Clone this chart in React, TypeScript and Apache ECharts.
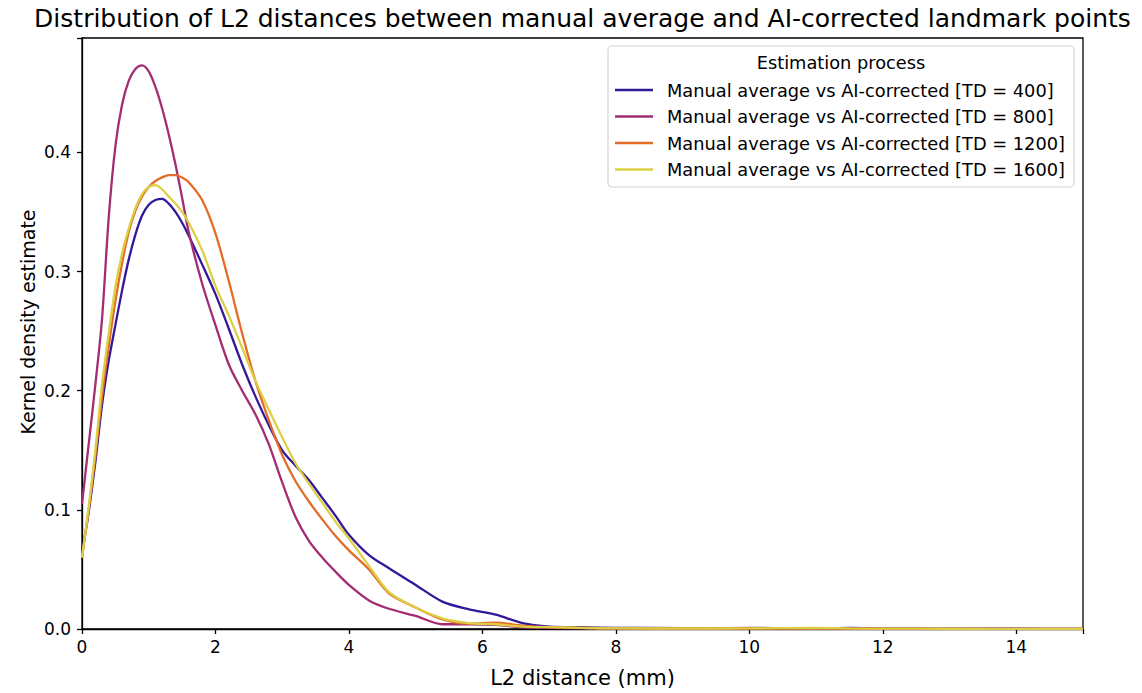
import React, { useEffect, useRef } from "react";
import * as echarts from "echarts";

const TITLE = "Distribution of L2 distances between manual average and AI-corrected landmark points";
const X_LABEL = "L2 distance (mm)";
const Y_LABEL = "Kernel density estimate";
const LEGEND_TITLE = "Estimation process";

const SERIES_NAMES = [
  "Manual average vs AI-corrected [TD = 400]",
  "Manual average vs AI-corrected [TD = 800]",
  "Manual average vs AI-corrected [TD = 1200]",
  "Manual average vs AI-corrected [TD = 1600]",
];
const SERIES_COLORS = ["#33189a", "#a32c73", "#e36d28", "#dccf45"];

const X_VALUES = [
  0, 0.1, 0.2, 0.3, 0.4, 0.5, 0.6, 0.7, 0.8, 0.9, 1.0, 1.1, 1.2, 1.3, 1.4, 1.5, 1.6,
  1.8, 2.0, 2.2, 2.4, 2.6, 2.8, 3.0, 3.2, 3.4, 3.6, 3.8, 4.0, 4.3, 4.6, 5.0, 5.4,
  5.8, 6.2, 6.6, 7.0, 7.5, 8, 9, 10, 11, 11.5, 12, 13, 14, 15,
];

const TD400 = [
  0.064, 0.098, 0.14, 0.188, 0.225, 0.255, 0.284, 0.31, 0.331, 0.347, 0.356, 0.36, 0.361, 0.357, 0.35, 0.341, 0.33,
  0.306, 0.281, 0.252, 0.222, 0.195, 0.171, 0.15, 0.137, 0.125, 0.11, 0.095, 0.079, 0.062, 0.051, 0.037, 0.023,
  0.0165, 0.012, 0.005, 0.002, 0.0015, 0.001, 0.0008, 0.0006, 0.0005, 0.001, 0.0006, 0.0003, 0.0002, 0.0001,
];
const TD800 = [
  0.105, 0.155, 0.205, 0.26, 0.345, 0.405, 0.44, 0.46, 0.47, 0.473, 0.468, 0.455, 0.437, 0.415, 0.39, 0.362, 0.333,
  0.29, 0.255, 0.222, 0.2, 0.18, 0.155, 0.123, 0.094, 0.074, 0.06, 0.048, 0.037, 0.024, 0.017, 0.011, 0.004,
  0.004, 0.0035, 0.0015, 0.001, 0.0005, 0.0003, 0.0003, 0.001, 0.0003, 0.0002, 0.0002, 0.0001, 0.0001, 0.0001,
];
const TD1200 = [
  0.06, 0.1, 0.145, 0.195, 0.237, 0.275, 0.307, 0.333, 0.351, 0.363, 0.371, 0.376, 0.379, 0.381, 0.381, 0.379, 0.375,
  0.36, 0.332, 0.292, 0.248, 0.208, 0.175, 0.146, 0.124, 0.107, 0.092, 0.078, 0.066, 0.05, 0.03, 0.018, 0.008,
  0.0045, 0.0053, 0.0028, 0.0015, 0.001, 0.0005, 0.0004, 0.0004, 0.0004, 0.0003, 0.0003, 0.0002, 0.0001, 0.0001,
];
const TD1600 = [
  0.06, 0.102, 0.15, 0.205, 0.248, 0.287, 0.315, 0.336, 0.353, 0.365, 0.371, 0.3725, 0.369, 0.363, 0.357, 0.35, 0.341,
  0.318, 0.288, 0.263, 0.236, 0.208, 0.184, 0.161, 0.139, 0.122, 0.106, 0.09, 0.076, 0.053, 0.031, 0.018, 0.009,
  0.005, 0.004, 0.002, 0.0015, 0.001, 0.0005, 0.0004, 0.0005, 0.001, 0.0005, 0.0003, 0.0002, 0.0001, 0.0001,
];
const SERIES_VALUES = [TD400, TD800, TD1200, TD1600];

const X_MIN = 0;
const X_MAX = 15;
const X_INTERVAL = 2;
const Y_MIN = 0;
const Y_MAX = 0.496;
const Y_INTERVAL = 0.1;

const FONT = "DejaVu Sans";

export default function App() {
  const ref = useRef<HTMLDivElement>(null);

  useEffect(() => {
    document.body.style.margin = "0";
    if (!ref.current) return;
    const chart = echarts.init(ref.current, undefined, { renderer: "svg" });

    const series = SERIES_NAMES.map((name, i) => ({
      name,
      type: "line",
      data: X_VALUES.map((x, j) => [x, SERIES_VALUES[i][j]]),
      showSymbol: false,
      symbol: "none",
      smooth: 0.3,
      lineStyle: { color: SERIES_COLORS[i], width: 2.3 },
      itemStyle: { color: SERIES_COLORS[i] },
      z: 2 + i,
    }));

    chart.setOption({
      animation: false,
      backgroundColor: "#ffffff",
      textStyle: { fontFamily: FONT },
      grid: {
        left: 82,
        right: 59,
        top: 38,
        bottom: 60,
        show: true,
        borderColor: "#000",
        borderWidth: 1.3,
        backgroundColor: "transparent",
      },
      xAxis: {
        type: "value",
        min: X_MIN,
        max: X_MAX,
        interval: X_INTERVAL,
        name: X_LABEL,
        nameLocation: "middle",
        nameGap: 38,
        nameTextStyle: { fontFamily: FONT, fontSize: 21, color: "#000" },
        axisLine: { show: true, onZero: false, lineStyle: { color: "#000", width: 1.3 } },
        axisTick: { show: true, inside: false, length: 5, lineStyle: { color: "#000", width: 1.3 } },
        axisLabel: {
          fontFamily: FONT,
          fontSize: 17,
          color: "#000",
          margin: 9,
          formatter: (v: number) => (Math.abs(v % X_INTERVAL) < 1e-9 ? String(v) : ""),
        },
        splitLine: { show: false },
      },
      yAxis: {
        type: "value",
        min: Y_MIN,
        max: Y_MAX,
        interval: Y_INTERVAL,
        axisLine: { show: true, onZero: false, lineStyle: { color: "#000", width: 1.3 } },
        axisTick: { show: true, inside: false, length: 5, lineStyle: { color: "#000", width: 1.3 } },
        axisLabel: {
          fontFamily: FONT,
          fontSize: 17,
          color: "#000",
          margin: 11,
          formatter: (v: number) => {
            const k = v / Y_INTERVAL;
            return Math.abs(k - Math.round(k)) < 1e-6 ? v.toFixed(1) : "";
          },
        },
        splitLine: { show: false },
      },
      legend: {
        show: true,
        orient: "vertical",
        left: 615,
        top: 80,
        padding: 0,
        itemGap: 6.5,
        itemWidth: 38,
        itemHeight: 2.5,
        icon: "rect",
        z: 20,
        data: SERIES_NAMES.map((n, i) => ({ name: n, itemStyle: { color: SERIES_COLORS[i] } })),
        textStyle: {
          fontFamily: FONT,
          fontSize: 17.8,
          color: "#000",
          lineHeight: 20,
          padding: [0, 0, 0, 9],
        },
      },
      graphic: [
        {
          type: "text",
          x: 582.5,
          y: 18,
          style: {
            text: TITLE,
            font: `25px "${FONT}"`,
            fill: "#000",
            align: "center",
            verticalAlign: "middle",
          },
        },
        {
          type: "text",
          x: 28,
          y: 322,
          rotation: Math.PI / 2,
          style: {
            text: Y_LABEL,
            font: `19px "${FONT}"`,
            fill: "#000",
            align: "center",
            verticalAlign: "middle",
          },
        },
        {
          type: "rect",
          z: 10,
          shape: { x: 608, y: 46, width: 466, height: 141, r: 4 },
          style: { fill: "rgba(255,255,255,0.85)", stroke: "#d4d4d4", lineWidth: 1.2 },
        },
        {
          type: "text",
          z: 11,
          x: 841,
          y: 62,
          style: {
            text: LEGEND_TITLE,
            font: `17.8px "${FONT}"`,
            fill: "#000",
            align: "center",
            verticalAlign: "middle",
          },
        },
      ],
      series,
    });

    return () => chart.dispose();
  }, []);

  return <div ref={ref} style={{ width: 1142, height: 693 }} />;
}
